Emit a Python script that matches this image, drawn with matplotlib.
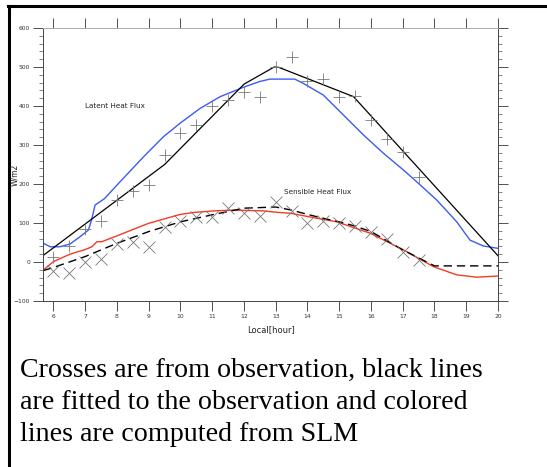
import numpy as np
import matplotlib
matplotlib.use("Agg")
import matplotlib.pyplot as plt
from matplotlib.lines import Line2D
from matplotlib.ticker import MultipleLocator

# observations (crosses)
obs_hour = [6, 6.5, 7, 7.5, 8, 8.5, 9, 9.5, 10, 10.5, 11, 11.5, 12, 12.5, 13,
            13.5, 14, 14.5, 15, 15.5, 16, 16.5, 17, 17.5]
obs_latent = [12, 41, 85, 104, 159, 182, 198, 274, 332, 351, 400, 415, 437, 424, 500,
              526, 463, 469, 422, 426, 364, 315, 283, 219]
obs_sensible = [-22, -29, 1, 7, 45, 50, 39, 89, 105, 116, 116, 138, 125, 118, 155,
                132, 99, 106, 99, 92, 78, 58, 26, 5]

# fitted lines (black)
fit_lat_hour = [5.68, 9.5, 12, 12.95, 13.1, 15.45, 20]
fit_lat = [17, 250, 456, 500, 499, 424, 16]
fit_sen_hour = [5.68, 6, 7, 8, 9, 10, 11, 12, 13, 13.5, 14, 14.5, 15, 15.5, 16, 17, 18, 20]
fit_sen = [-22, -14, 14, 48, 78, 103, 121, 138, 141, 133, 122, 112, 103, 92, 78, 31, -10, -10]

# SLM (colored)
slm_lat_hour = [5.68, 5.9, 6.2, 6.52, 6.84, 7.1, 7.2, 7.31, 7.6, 8.1, 8.84, 9.46, 9.99,
                10.62, 11.25, 11.98, 12.5, 12.82, 13.03, 13.6, 13.87, 14.5, 15.13,
                15.76, 16.39, 17.02, 17.49, 18.07, 18.7, 19.12, 19.54, 20]
slm_lat = [48, 39, 39, 46, 65, 82, 108, 146, 162, 206, 270, 321, 356,
           394, 424, 448, 463, 469, 469, 469, 458, 428, 377,
           326, 279, 236, 202, 159, 103, 56, 41, 35]
slm_sen_hour = [5.69, 6, 6.52, 7.0, 7.21, 7.37, 7.52, 8.0, 8.99, 9.99, 10.41, 11.04,
                11.67, 12.6, 13.1, 13.45, 14.92, 15.97, 17.02, 17.97, 18.7, 19.33, 20]
slm_sen = [-20, 1, 20, 32, 39, 52, 52, 67, 99, 122, 127, 131,
           133, 131, 127, 125, 103, 74, 31, -12, -33, -39, -36]

fig = plt.figure(figsize=(5.47, 4.67), dpi=100)
ax = fig.add_axes([0.0792, 0.3555, 0.8312, 0.5845])

ax.plot(slm_lat_hour, slm_lat, color='#3a5cf5', lw=1.0)
ax.plot(slm_sen_hour, slm_sen, color='#f53a24', lw=1.0)
ax.plot(fit_lat_hour, fit_lat, color='black', lw=0.9)
ax.plot(fit_sen_hour, fit_sen, color='black', lw=1.0, dashes=(6, 3.5))
ax.plot(obs_hour, obs_latent, ls='none', marker='+', ms=8, mew=0.6, color='#777777')
ax.plot(obs_hour, obs_sensible, ls='none', marker='x', ms=8.5, mew=0.6, color='#777777')

ax.set_xlim(5.68, 20)
ax.set_ylim(-100, 600)
ax.xaxis.set_major_locator(MultipleLocator(1))
ax.yaxis.set_major_locator(MultipleLocator(100))
ax.yaxis.set_minor_locator(MultipleLocator(20))
ax.tick_params(which='major', direction='out', length=7, width=0.6, color='#333333',
               labelsize=4.3, labelcolor='#333333', top=True, right=True, pad=2.5)
ax.tick_params(which='minor', direction='out', length=3, width=0.5, color='#555555',
               left=True, right=True)
ax.tick_params(axis='x', which='minor', bottom=False, top=False)
for s in ax.spines.values():
    s.set_linewidth(0.7)
    s.set_color('#444444')
ax.spines['top'].set_color('#aaaaaa')

ax.text(7.0, 400, 'Latent Heat Flux', fontsize=5.2, color='#222222', va='center')
ax.text(13.25, 180, 'Sensible Heat Flux', fontsize=5.2, color='#222222', va='center')
ax.set_xlabel('Local[hour]', fontsize=6, color='#222222', labelpad=4)
fig.text(0.019, 0.625, 'W/m2', rotation=90, fontsize=5.5, color='#222222', va='center')

# frame lines
fig.add_artist(Line2D([0.0165, 0.0165], [0.0, 0.987], color='black', lw=2.2))
fig.add_artist(Line2D([0.0145, 1.0], [0.987, 0.987], color='black', lw=2.2))

fig.text(0.037, 0.138, 'Crosses are from observation, black lines\n'
         'are fitted to the observation and colored\n'
         'lines are computed from SLM',
         family='Liberation Serif', fontsize=20.2, va='center', ha='left',
         linespacing=1.36)

fig.savefig('out.png', dpi=100)
